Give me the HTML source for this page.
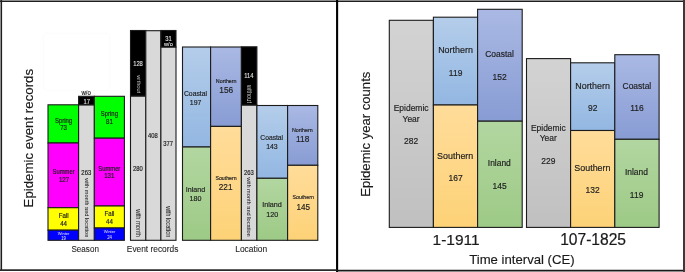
<!DOCTYPE html>
<html><head><meta charset="utf-8"><style>
html,body{margin:0;padding:0;background:#fff;width:685px;height:272px;overflow:hidden}
svg{display:block;font-family:"Liberation Sans", sans-serif;will-change:transform}
</style></head><body>
<svg width="685" height="272" viewBox="0 0 685 272">
<defs><linearGradient id="gLB" x1="0" y1="0" x2="0" y2="1"><stop offset="0" stop-color="#b4cdea"/><stop offset="1" stop-color="#93b7e2"/></linearGradient><linearGradient id="gLV" x1="0" y1="0" x2="0" y2="1"><stop offset="0" stop-color="#aab9e4"/><stop offset="1" stop-color="#889cd4"/></linearGradient><linearGradient id="gS" x1="0" y1="0" x2="0" y2="1"><stop offset="0" stop-color="#ffdc9a"/><stop offset="1" stop-color="#fdd277"/></linearGradient><linearGradient id="gI" x1="0" y1="0" x2="0" y2="1"><stop offset="0" stop-color="#b2d6a0"/><stop offset="1" stop-color="#9dca86"/></linearGradient><linearGradient id="gG" x1="0" y1="0" x2="0" y2="1"><stop offset="0" stop-color="#d3d3d3"/><stop offset="1" stop-color="#c0c0c0"/></linearGradient></defs>
<rect x="48.00" y="104.80" width="30.60" height="38.20" fill="#00ff00" stroke="#1c1c1c" stroke-width="1.1"/>
<rect x="48.00" y="143.00" width="30.60" height="64.70" fill="#ff00ff" stroke="#1c1c1c" stroke-width="1.1"/>
<rect x="48.00" y="207.70" width="30.60" height="22.50" fill="#ffff00" stroke="#1c1c1c" stroke-width="1.1"/>
<rect x="48.00" y="230.20" width="30.60" height="10.10" fill="#0000ff" stroke="#1c1c1c" stroke-width="1.1"/>
<rect x="78.60" y="104.80" width="15.75" height="135.50" fill="#d9d9d9" stroke="#1c1c1c" stroke-width="1.1"/>
<rect x="78.60" y="96.30" width="15.75" height="8.50" fill="#000" stroke="#1c1c1c" stroke-width="1.1"/>
<rect x="94.35" y="96.30" width="30.05" height="41.90" fill="#00ff00" stroke="#1c1c1c" stroke-width="1.1"/>
<rect x="94.35" y="138.20" width="30.05" height="67.80" fill="#ff00ff" stroke="#1c1c1c" stroke-width="1.1"/>
<rect x="94.35" y="206.00" width="30.05" height="22.00" fill="#ffff00" stroke="#1c1c1c" stroke-width="1.1"/>
<rect x="94.35" y="228.00" width="30.05" height="12.30" fill="#0000ff" stroke="#1c1c1c" stroke-width="1.1"/>
<rect x="130.50" y="96.00" width="15.30" height="144.30" fill="#d9d9d9" stroke="#1c1c1c" stroke-width="1.1"/>
<rect x="130.50" y="30.50" width="15.30" height="65.50" fill="#000" stroke="#1c1c1c" stroke-width="1.1"/>
<rect x="145.80" y="30.70" width="15.10" height="209.60" fill="#d9d9d9" stroke="#1c1c1c" stroke-width="1.1"/>
<rect x="160.90" y="47.00" width="15.10" height="193.30" fill="#d9d9d9" stroke="#1c1c1c" stroke-width="1.1"/>
<rect x="160.90" y="30.50" width="15.10" height="16.50" fill="#000" stroke="#1c1c1c" stroke-width="1.1"/>
<rect x="182.50" y="47.00" width="28.10" height="100.00" fill="url(#gLB)" stroke="#1c1c1c" stroke-width="1.1"/>
<rect x="182.50" y="147.00" width="28.10" height="93.30" fill="url(#gI)" stroke="#1c1c1c" stroke-width="1.1"/>
<rect x="210.60" y="47.00" width="30.80" height="79.40" fill="url(#gLV)" stroke="#1c1c1c" stroke-width="1.1"/>
<rect x="210.60" y="126.40" width="30.80" height="113.90" fill="url(#gS)" stroke="#1c1c1c" stroke-width="1.1"/>
<rect x="241.40" y="105.00" width="15.50" height="135.30" fill="#d9d9d9" stroke="#1c1c1c" stroke-width="1.1"/>
<rect x="241.40" y="46.80" width="15.50" height="58.20" fill="#000" stroke="#1c1c1c" stroke-width="1.1"/>
<rect x="256.90" y="105.50" width="30.70" height="72.80" fill="url(#gLB)" stroke="#1c1c1c" stroke-width="1.1"/>
<rect x="256.90" y="178.30" width="30.70" height="62.00" fill="url(#gI)" stroke="#1c1c1c" stroke-width="1.1"/>
<rect x="287.60" y="105.50" width="30.20" height="59.80" fill="url(#gLV)" stroke="#1c1c1c" stroke-width="1.1"/>
<rect x="287.60" y="165.30" width="30.20" height="75.00" fill="url(#gS)" stroke="#1c1c1c" stroke-width="1.1"/>
<rect x="389.30" y="20.30" width="44.10" height="207.10" fill="url(#gG)" stroke="#1c1c1c" stroke-width="1.1"/>
<rect x="433.40" y="17.20" width="44.20" height="87.80" fill="url(#gLB)" stroke="#1c1c1c" stroke-width="1.1"/>
<rect x="433.40" y="105.00" width="44.20" height="122.40" fill="url(#gS)" stroke="#1c1c1c" stroke-width="1.1"/>
<rect x="477.60" y="9.30" width="44.60" height="111.90" fill="url(#gLV)" stroke="#1c1c1c" stroke-width="1.1"/>
<rect x="477.60" y="121.20" width="44.60" height="106.20" fill="url(#gI)" stroke="#1c1c1c" stroke-width="1.1"/>
<rect x="526.50" y="58.60" width="44.10" height="168.80" fill="url(#gG)" stroke="#1c1c1c" stroke-width="1.1"/>
<rect x="570.60" y="62.80" width="44.20" height="67.70" fill="url(#gLB)" stroke="#1c1c1c" stroke-width="1.1"/>
<rect x="570.60" y="130.50" width="44.20" height="96.90" fill="url(#gS)" stroke="#1c1c1c" stroke-width="1.1"/>
<rect x="614.80" y="54.70" width="44.30" height="84.60" fill="url(#gLV)" stroke="#1c1c1c" stroke-width="1.1"/>
<rect x="614.80" y="139.30" width="44.30" height="88.10" fill="url(#gI)" stroke="#1c1c1c" stroke-width="1.1"/>
<text transform="translate(86.10 95.10) scale(0.9 1)" font-size="6.71" fill="#1e1e1e" text-anchor="middle" stroke="#1e1e1e" stroke-width="0.18">w/o</text>
<text transform="translate(86.80 103.80) scale(0.9 1)" font-size="6.49" fill="#e4e4e4" text-anchor="middle" stroke="#e4e4e4" stroke-width="0.1">17</text>
<text transform="translate(63.60 122.80) scale(0.9 1)" font-size="6.6" fill="#1e1e1e" text-anchor="middle" stroke="#1e1e1e" stroke-width="0.18">Spring</text>
<text transform="translate(63.60 130.30) scale(0.9 1)" font-size="6.82" fill="#1e1e1e" text-anchor="middle" stroke="#1e1e1e" stroke-width="0.18">73</text>
<text transform="translate(109.40 115.90) scale(0.9 1)" font-size="6.6" fill="#1e1e1e" text-anchor="middle" stroke="#1e1e1e" stroke-width="0.18">Spring</text>
<text transform="translate(109.40 123.50) scale(0.9 1)" font-size="6.82" fill="#1e1e1e" text-anchor="middle" stroke="#1e1e1e" stroke-width="0.18">81</text>
<text transform="translate(63.60 174.10) scale(0.9 1)" font-size="6.49" fill="#1e1e1e" text-anchor="middle" stroke="#1e1e1e" stroke-width="0.18">Summer</text>
<text transform="translate(64.00 181.60) scale(0.9 1)" font-size="6.82" fill="#1e1e1e" text-anchor="middle" stroke="#1e1e1e" stroke-width="0.18">127</text>
<text transform="translate(109.30 170.70) scale(0.9 1)" font-size="6.49" fill="#1e1e1e" text-anchor="middle" stroke="#1e1e1e" stroke-width="0.18">Summer</text>
<text transform="translate(109.30 178.20) scale(0.9 1)" font-size="6.82" fill="#1e1e1e" text-anchor="middle" stroke="#1e1e1e" stroke-width="0.18">131</text>
<text transform="translate(63.60 217.70) scale(0.9 1)" font-size="6.82" fill="#1e1e1e" text-anchor="middle" stroke="#1e1e1e" stroke-width="0.18">Fall</text>
<text transform="translate(63.60 225.60) scale(0.9 1)" font-size="6.82" fill="#1e1e1e" text-anchor="middle" stroke="#1e1e1e" stroke-width="0.18">44</text>
<text transform="translate(109.50 215.50) scale(0.9 1)" font-size="6.82" fill="#1e1e1e" text-anchor="middle" stroke="#1e1e1e" stroke-width="0.18">Fall</text>
<text transform="translate(109.50 223.50) scale(0.9 1)" font-size="6.82" fill="#1e1e1e" text-anchor="middle" stroke="#1e1e1e" stroke-width="0.18">44</text>
<text transform="translate(63.60 234.60) scale(0.92 1)" font-size="4.4" fill="#e8e8ff" text-anchor="middle">Winter</text>
<text transform="translate(63.60 239.60) scale(0.9 1)" font-size="4.7" fill="#e8e8ff" text-anchor="middle">19</text>
<text transform="translate(109.50 233.10) scale(0.92 1)" font-size="4.4" fill="#e8e8ff" text-anchor="middle">Winter</text>
<text transform="translate(109.50 239.20) scale(0.9 1)" font-size="4.7" fill="#e8e8ff" text-anchor="middle">24</text>
<text transform="translate(86.30 175.00) scale(0.9 1)" font-size="6.6" fill="#1e1e1e" text-anchor="middle" stroke="#1e1e1e" stroke-width="0.18">263</text>
<text transform="translate(85.20 178.20) rotate(90) scale(0.9 1)" font-size="6.27" fill="#1e1e1e" text-anchor="start" stroke="#1e1e1e" stroke-width="0.03">with month and location</text>
<text transform="translate(138.00 65.80) scale(0.9 1)" font-size="6.49" fill="#e4e4e4" text-anchor="middle" stroke="#e4e4e4" stroke-width="0.1">128</text>
<text transform="translate(136.90 75.30) rotate(90) scale(0.9 1)" font-size="6.27" fill="#c4c4c4" text-anchor="start">without</text>
<text transform="translate(137.90 170.60) scale(0.9 1)" font-size="6.49" fill="#1e1e1e" text-anchor="middle" stroke="#1e1e1e" stroke-width="0.18">280</text>
<text transform="translate(136.40 209.30) rotate(90) scale(0.9 1)" font-size="6.38" fill="#1e1e1e" text-anchor="start" stroke="#1e1e1e" stroke-width="0.03">with month</text>
<text transform="translate(152.90 138.10) scale(0.9 1)" font-size="6.49" fill="#1e1e1e" text-anchor="middle" stroke="#1e1e1e" stroke-width="0.18">408</text>
<text transform="translate(168.40 41.20) scale(0.9 1)" font-size="6.49" fill="#e4e4e4" text-anchor="middle" stroke="#e4e4e4" stroke-width="0.1">31</text>
<text transform="translate(168.40 46.00) scale(0.9 1)" font-size="6.16" fill="#e4e4e4" text-anchor="middle" stroke="#e4e4e4" stroke-width="0.1">w/o</text>
<text transform="translate(168.20 145.80) scale(0.9 1)" font-size="6.49" fill="#1e1e1e" text-anchor="middle" stroke="#1e1e1e" stroke-width="0.18">377</text>
<text transform="translate(165.60 206.20) rotate(90) scale(0.9 1)" font-size="6.33" fill="#1e1e1e" text-anchor="start" stroke="#1e1e1e" stroke-width="0.03">with location</text>
<text transform="translate(195.50 95.80) scale(0.9 1)" font-size="7.59" fill="#1e1e1e" text-anchor="middle" stroke="#1e1e1e" stroke-width="0.18">Coastal</text>
<text transform="translate(195.60 104.80) scale(0.9 1)" font-size="7.7" fill="#1e1e1e" text-anchor="middle" stroke="#1e1e1e" stroke-width="0.18">197</text>
<text transform="translate(226.20 82.90) scale(0.9 1)" font-size="5.94" fill="#1e1e1e" text-anchor="middle" stroke="#1e1e1e" stroke-width="0.18">Northern</text>
<text transform="translate(226.20 93.20) scale(0.9 1)" font-size="9.24" fill="#1e1e1e" text-anchor="middle" stroke="#1e1e1e" stroke-width="0.18">156</text>
<text transform="translate(195.50 191.90) scale(0.9 1)" font-size="7.92" fill="#1e1e1e" text-anchor="middle" stroke="#1e1e1e" stroke-width="0.18">Inland</text>
<text transform="translate(195.50 201.10) scale(0.9 1)" font-size="7.92" fill="#1e1e1e" text-anchor="middle" stroke="#1e1e1e" stroke-width="0.18">180</text>
<text transform="translate(226.00 180.00) scale(0.9 1)" font-size="5.83" fill="#1e1e1e" text-anchor="middle" stroke="#1e1e1e" stroke-width="0.18">Southern</text>
<text transform="translate(225.60 190.30) scale(0.9 1)" font-size="9.13" fill="#1e1e1e" text-anchor="middle" stroke="#1e1e1e" stroke-width="0.18">221</text>
<text transform="translate(248.90 78.20) scale(0.9 1)" font-size="6.49" fill="#e4e4e4" text-anchor="middle" stroke="#e4e4e4" stroke-width="0.1">114</text>
<text transform="translate(247.40 84.90) rotate(90) scale(0.9 1)" font-size="6.38" fill="#c4c4c4" text-anchor="start">without</text>
<text transform="translate(248.90 175.00) scale(0.9 1)" font-size="6.49" fill="#1e1e1e" text-anchor="middle" stroke="#1e1e1e" stroke-width="0.18">263</text>
<text transform="translate(247.30 177.50) rotate(90) scale(0.9 1)" font-size="6.27" fill="#1e1e1e" text-anchor="start" stroke="#1e1e1e" stroke-width="0.03">with month and location</text>
<text transform="translate(271.70 140.20) scale(0.9 1)" font-size="7.48" fill="#1e1e1e" text-anchor="middle" stroke="#1e1e1e" stroke-width="0.18">Coastal</text>
<text transform="translate(271.90 149.40) scale(0.9 1)" font-size="7.7" fill="#1e1e1e" text-anchor="middle" stroke="#1e1e1e" stroke-width="0.18">143</text>
<text transform="translate(302.30 131.60) scale(0.9 1)" font-size="5.94" fill="#1e1e1e" text-anchor="middle" stroke="#1e1e1e" stroke-width="0.18">Northern</text>
<text transform="translate(302.70 141.80) scale(0.9 1)" font-size="9.24" fill="#1e1e1e" text-anchor="middle" stroke="#1e1e1e" stroke-width="0.18">118</text>
<text transform="translate(272.00 206.80) scale(0.9 1)" font-size="8.03" fill="#1e1e1e" text-anchor="middle" stroke="#1e1e1e" stroke-width="0.18">Inland</text>
<text transform="translate(272.20 216.50) scale(0.9 1)" font-size="8.03" fill="#1e1e1e" text-anchor="middle" stroke="#1e1e1e" stroke-width="0.18">120</text>
<text transform="translate(303.20 199.40) scale(0.9 1)" font-size="5.83" fill="#1e1e1e" text-anchor="middle" stroke="#1e1e1e" stroke-width="0.18">Southern</text>
<text transform="translate(303.30 209.90) scale(0.9 1)" font-size="9.02" fill="#1e1e1e" text-anchor="middle" stroke="#1e1e1e" stroke-width="0.18">145</text>
<text transform="translate(85.20 251.80) scale(0.91 1)" font-size="8.9" fill="#262626" text-anchor="middle" stroke="#262626" stroke-width="0.1">Season</text>
<text transform="translate(152.60 251.80) scale(0.91 1)" font-size="9.2" fill="#262626" text-anchor="middle" stroke="#262626" stroke-width="0.1">Event records</text>
<text transform="translate(251.20 251.80) scale(0.91 1)" font-size="9.3" fill="#262626" text-anchor="middle" stroke="#262626" stroke-width="0.1">Location</text>
<text transform="translate(33.20 138.20) rotate(-90)" font-size="13.25" fill="#1a1a1a" text-anchor="middle" stroke="#1a1a1a" stroke-width="0.15">Epidemic event records</text>
<text transform="translate(411.10 110.80) scale(0.9 1)" font-size="9.4" fill="#1e1e1e" text-anchor="middle" stroke="#1e1e1e" stroke-width="0.18">Epidemic</text>
<text transform="translate(411.10 122.00) scale(0.9 1)" font-size="9.4" fill="#1e1e1e" text-anchor="middle" stroke="#1e1e1e" stroke-width="0.18">Year</text>
<text transform="translate(411.10 144.00) scale(0.9 1)" font-size="9.4" fill="#1e1e1e" text-anchor="middle" stroke="#1e1e1e" stroke-width="0.18">282</text>
<text transform="translate(455.50 53.20) scale(0.95 1)" font-size="9.4" fill="#1e1e1e" text-anchor="middle" stroke="#1e1e1e" stroke-width="0.18">Northern</text>
<text transform="translate(455.60 75.50) scale(0.9 1)" font-size="9.4" fill="#1e1e1e" text-anchor="middle" stroke="#1e1e1e" stroke-width="0.18">119</text>
<text transform="translate(499.50 57.00) scale(0.9 1)" font-size="9.4" fill="#1e1e1e" text-anchor="middle" stroke="#1e1e1e" stroke-width="0.18">Coastal</text>
<text transform="translate(499.60 79.90) scale(0.9 1)" font-size="9.4" fill="#1e1e1e" text-anchor="middle" stroke="#1e1e1e" stroke-width="0.18">152</text>
<text transform="translate(455.20 158.60) scale(0.95 1)" font-size="9.4" fill="#1e1e1e" text-anchor="middle" stroke="#1e1e1e" stroke-width="0.18">Southern</text>
<text transform="translate(455.60 180.90) scale(0.9 1)" font-size="9.4" fill="#1e1e1e" text-anchor="middle" stroke="#1e1e1e" stroke-width="0.18">167</text>
<text transform="translate(499.30 166.20) scale(0.9 1)" font-size="9.4" fill="#1e1e1e" text-anchor="middle" stroke="#1e1e1e" stroke-width="0.18">Inland</text>
<text transform="translate(499.60 188.90) scale(0.9 1)" font-size="9.4" fill="#1e1e1e" text-anchor="middle" stroke="#1e1e1e" stroke-width="0.18">145</text>
<text transform="translate(548.30 130.60) scale(0.9 1)" font-size="9.4" fill="#1e1e1e" text-anchor="middle" stroke="#1e1e1e" stroke-width="0.18">Epidemic</text>
<text transform="translate(548.30 141.30) scale(0.9 1)" font-size="9.4" fill="#1e1e1e" text-anchor="middle" stroke="#1e1e1e" stroke-width="0.18">Year</text>
<text transform="translate(548.30 163.75) scale(0.9 1)" font-size="9.4" fill="#1e1e1e" text-anchor="middle" stroke="#1e1e1e" stroke-width="0.18">229</text>
<text transform="translate(592.60 88.70) scale(0.95 1)" font-size="9.4" fill="#1e1e1e" text-anchor="middle" stroke="#1e1e1e" stroke-width="0.18">Northern</text>
<text transform="translate(592.70 110.80) scale(0.9 1)" font-size="9.4" fill="#1e1e1e" text-anchor="middle" stroke="#1e1e1e" stroke-width="0.18">92</text>
<text transform="translate(636.90 89.10) scale(0.9 1)" font-size="9.4" fill="#1e1e1e" text-anchor="middle" stroke="#1e1e1e" stroke-width="0.18">Coastal</text>
<text transform="translate(637.00 111.30) scale(0.9 1)" font-size="9.4" fill="#1e1e1e" text-anchor="middle" stroke="#1e1e1e" stroke-width="0.18">116</text>
<text transform="translate(592.40 171.25) scale(0.95 1)" font-size="9.4" fill="#1e1e1e" text-anchor="middle" stroke="#1e1e1e" stroke-width="0.18">Southern</text>
<text transform="translate(592.60 193.10) scale(0.9 1)" font-size="9.4" fill="#1e1e1e" text-anchor="middle" stroke="#1e1e1e" stroke-width="0.18">132</text>
<text transform="translate(636.40 175.30) scale(0.9 1)" font-size="9.4" fill="#1e1e1e" text-anchor="middle" stroke="#1e1e1e" stroke-width="0.18">Inland</text>
<text transform="translate(636.60 197.80) scale(0.9 1)" font-size="9.4" fill="#1e1e1e" text-anchor="middle" stroke="#1e1e1e" stroke-width="0.18">119</text>
<text transform="translate(456.10 244.60)" font-size="15.5" fill="#1a1a1a" text-anchor="middle" stroke="#1a1a1a" stroke-width="0.2">1-1911</text>
<text transform="translate(593.10 244.60)" font-size="15.6" fill="#1a1a1a" text-anchor="middle" stroke="#1a1a1a" stroke-width="0.2">107-1825</text>
<text transform="translate(521.90 263.90)" font-size="13.15" fill="#1a1a1a" text-anchor="middle" stroke="#1a1a1a" stroke-width="0.15">Time interval (CE)</text>
<text transform="translate(369.60 134.25) rotate(-90)" font-size="13.1" fill="#1a1a1a" text-anchor="middle" stroke="#1a1a1a" stroke-width="0.15">Epidemic year counts</text>
<line x1="0" y1="1.2" x2="685" y2="1.2" stroke="#1e1e1e" stroke-width="1.6"/>
<line x1="1.3" y1="0" x2="1.3" y2="271" stroke="#1e1e1e" stroke-width="1.6"/>
<line x1="337.1" y1="0" x2="337.1" y2="272" stroke="#000" stroke-width="2.1"/>
<rect x="683" y="0" width="2" height="272" fill="#3a3a3a"/>
<line x1="0" y1="270.1" x2="337" y2="270.1" stroke="#2a2a2a" stroke-width="1.9"/>
<line x1="336" y1="270.6" x2="683" y2="270.6" stroke="#1a1a1a" stroke-width="1.8"/>
<rect x="43.2" y="33.2" width="66.8" height="57.2" rx="4" fill="none" stroke="#f9f9f9" stroke-width="0.6"/>
</svg>
</body></html>
